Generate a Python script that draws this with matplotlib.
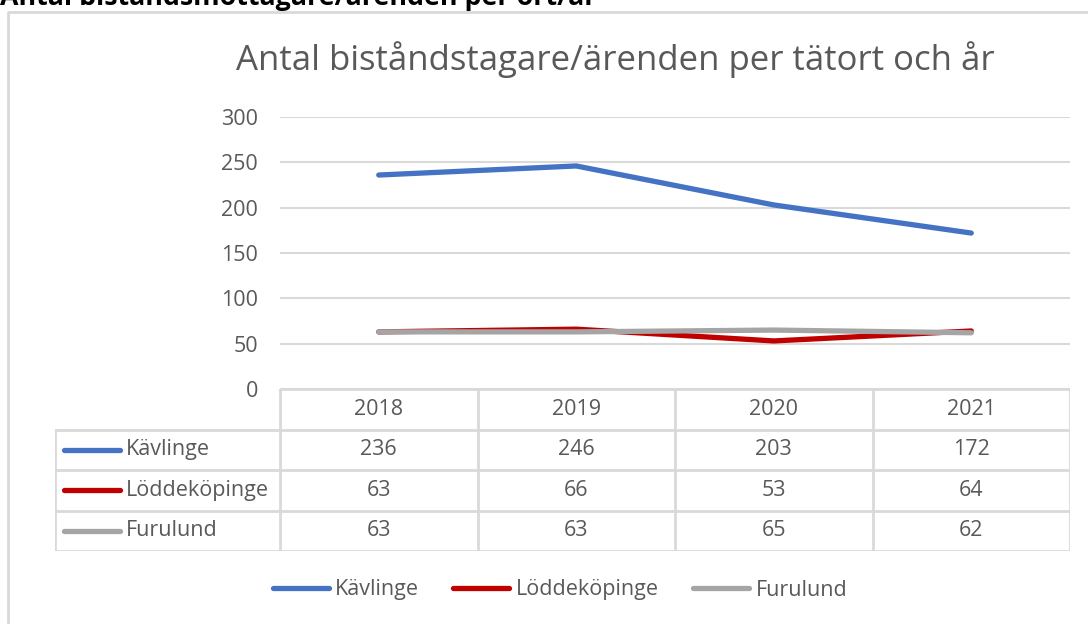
import numpy as np
import matplotlib.pyplot as plt
from matplotlib.lines import Line2D

plt.rcParams['font.family'] = ['Open Sans', 'DejaVu Sans']

# ---------------------------------------------------
#   data
# ---------------------------------------------------
years = ['2018', '2019', '2020', '2021']
names = ['Kävlinge', 'Löddeköpinge', 'Furulund']
kavlinge = [236, 246, 203, 172]
loddekopinge = [63, 66, 53, 64]
furulund = [63, 63, 65, 62]
series = [kavlinge, loddekopinge, furulund]
colors = ['#4472C4', '#C00000', '#A5A5A5']
y_ticks = [0, 50, 100, 150, 200, 250, 300]

W, H = 1088, 624
fs = 15.5
txt_c = '#595959'
fig = plt.figure(figsize=(W / 100, H / 100), dpi=100)

def box(x0, y0, x1, y1):
    # pixel box (top-left origin) -> figure fraction rect
    return [x0 / W, 1 - y1 / H, (x1 - x0) / W, (y1 - y0) / H]

# outer frame
frame = fig.add_axes([0, 0, 1, 1])
frame.set_xlim(0, W)
frame.set_ylim(H, 0)
frame.axis('off')
frame.plot([8, 8, W], [H, 12, 12], color='#D9D9D9', lw=2)
frame.text(0, 5, 'Antal biståndsmottagare/ärenden per ort/år',
           fontsize=19.3, fontweight='bold', color='black', va='baseline')
frame.text(615, 60, 'Antal biståndstagare/ärenden per tätort och år',
           fontsize=25, color=txt_c, ha='center', va='center')

# ---------------------------------------------------
#   line chart
# ---------------------------------------------------
px0, px1, py0, py1 = 280, 1070, 117, 389
ax = fig.add_axes(box(px0, py0, px1, py1))
x = np.arange(len(years)) + 0.5
for vals, c in zip(series, colors):
    ax.plot(x, vals, color=c, lw=3.8, solid_capstyle='round')
ax.set_xlim(0, len(years))
ax.set_ylim(0, 300)
ax.set_yticks(y_ticks)
ax.set_xticks([])
ax.grid(axis='y', color='#D9D9D9', lw=1.5)
ax.set_axisbelow(True)
for s in ax.spines.values():
    s.set_visible(False)
ax.tick_params(axis='y', length=0, pad=16, labelsize=fs, labelcolor=txt_c)

# ---------------------------------------------------
#   data table
# ---------------------------------------------------
tx0, ty0, ty1 = 55, 389, 551
col_w = (px1 - px0) / len(years)
tb = fig.add_axes(box(tx0, ty0, px1, ty1))
left = -(px0 - tx0) / col_w
tb.set_xlim(left, len(years))
tb.set_ylim(4, 0)
tb.axis('off')
gc = '#D9D9D9'
tb.plot([0, len(years)], [0, 0], color=gc, lw=2)
for r in range(1, 5):
    tb.plot([left, len(years)], [r, r], color=gc, lw=2)
tb.plot([left, left], [1, 4], color=gc, lw=2)
for cidx in range(len(years) + 1):
    tb.plot([cidx, cidx], [0, 4], color=gc, lw=2)
for cidx, yr in enumerate(years):
    tb.text(cidx + 0.5, 0.5, yr, ha='center', va='center', fontsize=fs, color=txt_c)
for r, (nm, vals, c) in enumerate(zip(names, series, colors)):
    yy = r + 1.5
    tb.plot([left + 0.045, left + 0.33], [yy, yy], color=c, lw=3.8, solid_capstyle='round')
    tb.text(left + 0.36, yy, nm, ha='left', va='center', fontsize=fs, color=txt_c)
    for cidx, v in enumerate(vals):
        tb.text(cidx + 0.5, yy, str(v), ha='center', va='center', fontsize=fs, color=txt_c)

# ---------------------------------------------------
#   legend
# ---------------------------------------------------
handles = [Line2D([], [], color=c, lw=3.8, solid_capstyle='round') for c in colors]
fig.legend(handles, names, loc='center', bbox_to_anchor=(560 / W, 1 - 590 / H),
           ncol=3, frameon=False, fontsize=fs, labelcolor=txt_c,
           handlelength=2.6, handletextpad=0.3, columnspacing=1.6)

fig.savefig('out.png', dpi=100)
